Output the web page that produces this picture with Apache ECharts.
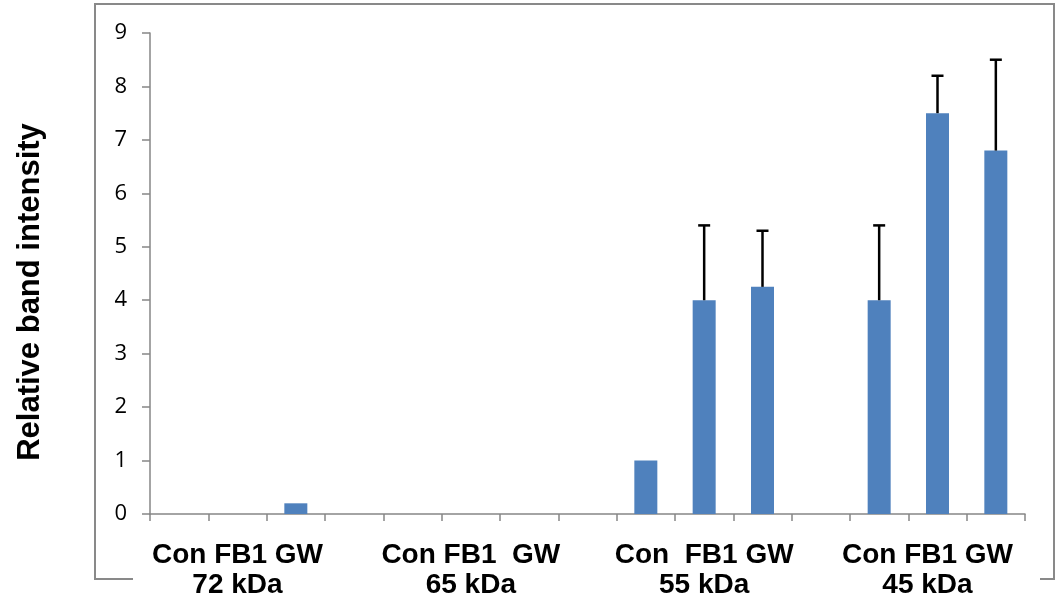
<!DOCTYPE html>
<html>
<head>
<meta charset="utf-8">
<script src="https://cdn.jsdelivr.net/npm/echarts@6/dist/echarts.min.js"></script>
<style>
  html, body { margin: 0; padding: 0; background: #fff; }
  #chart { width: 1056px; height: 606px; }
</style>
</head>
<body>
<div id="chart"></div>
<script>
// groups along the x axis, each with three treatments and a blank slot between groups
const groups = ["72 kDa", "65 kDa", "55 kDa", "45 kDa"];
const groupTreatments = ["Con FB1 GW", "Con FB1  GW", "Con  FB1 GW", "Con FB1 GW"];
const treatments = ["Con", "FB1", "GW"];

// relative band intensity, per group: Con, FB1, GW
const means = [
  [0, 0, 0.2],
  [0, 0, 0],
  [1, 4, 4.25],
  [4, 7.5, 6.8]
];
// upper error (SD) per group
const errors = [
  [0, 0, 0],
  [0, 0, 0],
  [0, 1.4, 1.05],
  [1.4, 0.7, 1.7]
];

const yTicks = [0, 1, 2, 3, 4, 5, 6, 7, 8, 9];

// flatten into 15 slots (3 bars + gap per group, no gap after the last)
const categories = [];
const barValues = [];
const errValues = [];
groups.forEach((g, gi) => {
  treatments.forEach((t, ti) => {
    categories.push(g + " " + t);
    barValues.push(means[gi][ti]);
    errValues.push(means[gi][ti] + errors[gi][ti]);
  });
  if (gi < groups.length - 1) {
    categories.push(g + " gap");
    barValues.push(null);
    errValues.push(null);
  }
});

const errorData = [];
barValues.forEach((v, i) => {
  if (v != null && errValues[i] > v) errorData.push([i, v, errValues[i]]);
});

const labelFont = { color: "#000", fontFamily: "Liberation Sans", fontWeight: "bold", fontSize: 28, lineHeight: 30 };

const chart = echarts.init(document.getElementById("chart"));

const option = {
  animation: false,
  grid: { left: 150, right: 31, top: 33, bottom: 92 },
  xAxis: {
    type: "category",
    data: categories,
    boundaryGap: true,
    axisLine: { lineStyle: { color: "#868686", width: 1.5 } },
    axisTick: { show: true, interval: 0, length: 7, lineStyle: { color: "#868686", width: 1.5 } },
    axisLabel: Object.assign({
      interval: (index) => index % 4 === 1,
      formatter: (val, index) => {
        const gi = Math.floor(index / 4);
        const s = gi === 3 ? "r" : "n";
        return "{" + s + "|" + groupTreatments[gi] + "}\n{" + s + "|" + groups[gi] + "}";
      },
      margin: 26,
      rich: {
        n: Object.assign({}, labelFont),
        r: Object.assign({ padding: [0, 20, 0, 0] }, labelFont)
      }
    }, labelFont),
    splitLine: { show: false }
  },
  yAxis: {
    type: "value",
    min: 0,
    max: 9,
    interval: 1,
    axisLine: { show: true, lineStyle: { color: "#868686", width: 1.5 } },
    axisTick: { show: true, inside: false, length: 8, lineStyle: { color: "#868686", width: 1.5 } },
    axisLabel: {
      margin: 23,
      color: "#000",
      fontFamily: "Open Sans",
      fontSize: 22,
      formatter: (v) => yTicks.includes(v) ? String(v) : ""
    },
    splitLine: { show: false }
  },
  graphic: [
    // outer chart frame (bottom edge hidden behind category labels)
    { type: "polyline", shape: { points: [[133, 579], [95, 579], [95, 4], [1054, 4], [1054, 579], [1040, 579]] },
      style: { stroke: "#898989", lineWidth: 2, fill: null }, silent: true },
    { type: "text", x: 30, y: 292, rotation: Math.PI / 2,
      style: { text: "Relative band intensity", font: "bold 31px 'Liberation Sans'", fill: "#000",
               textAlign: "center", textVerticalAlign: "middle" } }
  ],
  series: [
    {
      name: "Relative band intensity",
      type: "bar",
      data: barValues,
      barWidth: 23,
      itemStyle: { color: "#4F81BD" }
    },
    {
      name: "SD",
      type: "custom",
      data: errorData,
      z: 3,
      renderItem: (params, api) => {
        const x = api.value(0);
        const top = api.coord([x, api.value(2)]);
        const base = api.coord([x, api.value(1)]);
        const cap = 6;
        const style = { stroke: "#000", lineWidth: 2.5 };
        return {
          type: "group",
          children: [
            { type: "line", shape: { x1: top[0], y1: base[1], x2: top[0], y2: top[1] }, style },
            { type: "line", shape: { x1: top[0] - cap, y1: top[1], x2: top[0] + cap, y2: top[1] }, style }
          ]
        };
      }
    }
  ]
};

chart.setOption(option);
</script>
</body>
</html>
